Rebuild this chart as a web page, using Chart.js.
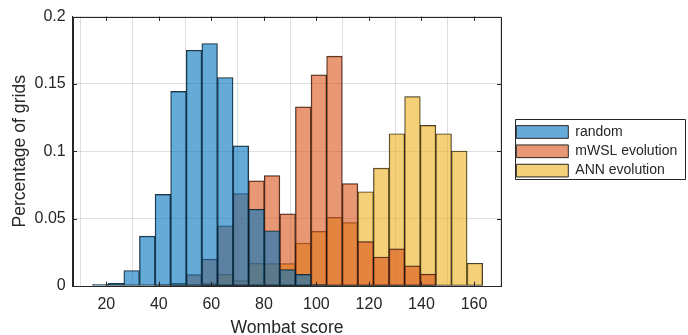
<!DOCTYPE html>
<html>
<head>
<meta charset="utf-8">
<script src="https://cdn.jsdelivr.net/npm/chart.js@4.4.0/dist/chart.umd.min.js"></script>
<style>
html,body{margin:0;padding:0;background:#ffffff;}
#wrap{width:688px;height:335px;position:relative;}
</style>
</head>
<body>
<div id="wrap"><canvas id="c" width="688" height="335"></canvas></div>
<script>
// ---- data ----
const binCenters = [17.77, 23.71, 29.65, 35.59, 41.53, 47.47, 53.41, 59.35, 65.29, 71.23,
                    77.17, 83.11, 89.05, 94.99, 100.93, 106.87, 112.81, 118.75, 124.69, 130.63,
                    136.57, 142.51, 148.45, 154.39, 160.33];
const seriesLabels = ['random', 'mWSL evolution', 'ANN evolution'];
const randomVals = [0.0012, 0.002, 0.0115, 0.037, 0.068, 0.1445, 0.175, 0.18, 0.1548, 0.104,
                    0.057, 0.041, 0.0122, 0.0086, 0.001, 0, 0, 0, 0, 0,
                    0, 0, 0, 0, 0];
const mwslVals   = [0, 0, 0, 0, 0.001, 0, 0.0085, 0.020, 0.0447, 0.0687,
                    0.078, 0.082, 0.0535, 0.133, 0.1567, 0.1707, 0.076, 0.033, 0.0215, 0.0276,
                    0.015, 0.0088, 0, 0, 0];
const annVals    = [0, 0, 0, 0, 0, 0.002, 0, 0.002, 0.0086, 0.004,
                    0.0168, 0.0166, 0.0166, 0.0318, 0.0406, 0.0509, 0.047, 0.070, 0.0875, 0.113,
                    0.1406, 0.1193, 0.113, 0.1002, 0.0169];
const xTickValues = [20, 40, 60, 80, 100, 120, 140, 160];
const yTickValues = [0, 0.05, 0.1, 0.15, 0.2];
const yTickLabels = ['0', '0.05', '0.1', '0.15', '0.2'];
const xTitle = 'Wombat score';
const yTitle = 'Percentage of grids';

// ---- styling ----
const FONT = "'Liberation Sans', Arial, Helvetica, sans-serif";
const INK = '#262626';
const fills = ['rgba(0,114,189,0.6)', 'rgba(217,83,25,0.6)', 'rgba(237,177,32,0.6)'];
const EDGE = 'rgba(20,20,20,0.9)';

function toPoints(vals) {
  return vals.map((v, i) => ({x: binCenters[i], y: v > 0 ? v : null}));
}
const allVals = [randomVals, mwslVals, annVals];
const datasets = allVals.map((vals, k) => ({
  label: seriesLabels[k],
  data: toPoints(vals),
  backgroundColor: fills[k],
  borderColor: EDGE,
  borderWidth: 0.75,
  borderSkipped: false,
  grouped: false,
  barPercentage: 1,
  categoryPercentage: 1
}));

const frame = {
  id: 'frame',
  afterLayout(chart) {
    const lg = chart.legend;
    if (!lg) return;
    const a = chart.chartArea;
    const pad = lg.options.labels.padding;
    lg.left = a.right + 15 - pad;
    lg.right = lg.left + lg.width;
    lg.top = 119.7;
    lg.bottom = a.bottom;
  },
  afterDraw(chart) {
    const ctx = chart.ctx;
    const a = chart.chartArea;
    const xs = chart.scales.x, ys = chart.scales.y;
    const tl = 4.3;
    ctx.save();
    ctx.strokeStyle = INK;
    ctx.lineWidth = 1;
    ctx.beginPath();
    xTickValues.forEach(v => {
      const p = Math.round(xs.getPixelForValue(v)) + 0.5;
      ctx.moveTo(p, a.bottom); ctx.lineTo(p, a.bottom - tl);
      ctx.moveTo(p, a.top); ctx.lineTo(p, a.top + tl);
    });
    yTickValues.forEach(v => {
      const p = Math.round(ys.getPixelForValue(v)) + 0.5;
      ctx.moveTo(a.left, p); ctx.lineTo(a.left + tl, p);
      ctx.moveTo(a.right, p); ctx.lineTo(a.right - tl, p);
    });
    ctx.stroke();
    // axes box
    ctx.beginPath();
    ctx.rect(Math.round(a.left) + 0.5, Math.round(a.top) + 0.5,
             Math.round(a.right) - Math.round(a.left), Math.round(a.bottom) - Math.round(a.top));
    ctx.stroke();
    // legend box
    const lg = chart.legend;
    if (lg) {
      const pad = lg.options.labels.padding;
      const bx = lg.left + pad - 1.7;
      const by = lg.top - 0.5;
      ctx.beginPath();
      ctx.rect(Math.round(bx) + 0.5, Math.round(by) + 0.5, 170, 60);
      ctx.stroke();
    }
    ctx.restore();
  }
};

new Chart(document.getElementById('c'), {
  type: 'bar',
  data: {datasets},
  options: {
    responsive: false,
    animation: false,
    devicePixelRatio: 1,
    layout: {padding: {left: 0, top: 12.7, right: 186.7, bottom: 0}},
    plugins: {
      tooltip: {enabled: false},
      legend: {
        display: true,
        position: 'chartArea',
        align: 'start',
        labels: {
          boxWidth: 52,
          boxHeight: 12.7,
          padding: 5.3,
          color: INK,
          font: {family: FONT, size: 14},
          generateLabels(chart) {
            return Chart.defaults.plugins.legend.labels.generateLabels(chart).map(l =>
              Object.assign(l, {lineWidth: 1, strokeStyle: INK}));
          }
        }
      }
    },
    scales: {
      x: {
        type: 'linear',
        min: 7.2,
        max: 170.4,
        offset: false,
        afterBuildTicks(s) { s.ticks = xTickValues.map(v => ({value: v})); },
        afterFit(s) { s.height = 49; },
        grid: {color: 'rgba(38,38,38,0.15)', lineWidth: 1, drawTicks: false},
        border: {display: true, color: INK, width: 1},
        ticks: {
          color: INK, font: {family: FONT, size: 16}, padding: 8.9,
          maxRotation: 0, autoSkip: false,
          callback: v => String(v)
        },
        title: {
          display: true, text: xTitle, color: INK,
          font: {family: FONT, size: 17.6, lineHeight: 0.8},
          padding: {top: 0, bottom: 0}
        }
      },
      y: {
        type: 'linear',
        min: 0,
        max: 0.2,
        afterBuildTicks(s) { s.ticks = yTickValues.map(v => ({value: v})); },
        afterFit(s) { s.width = 72.7; },
        grid: {color: 'rgba(38,38,38,0.15)', lineWidth: 1, drawTicks: false},
        border: {display: true, color: INK, width: 1},
        ticks: {
          color: INK, font: {family: FONT, size: 16}, padding: 7,
          autoSkip: false,
          callback: (v) => { const i = yTickValues.indexOf(v); return i >= 0 ? yTickLabels[i] : ''; }
        },
        title: {
          display: true, text: yTitle, color: INK,
          font: {family: FONT, size: 17.6},
          padding: {top: 9.9, bottom: 0}
        }
      }
    }
  },
  plugins: [frame]
});
</script>
</body>
</html>
